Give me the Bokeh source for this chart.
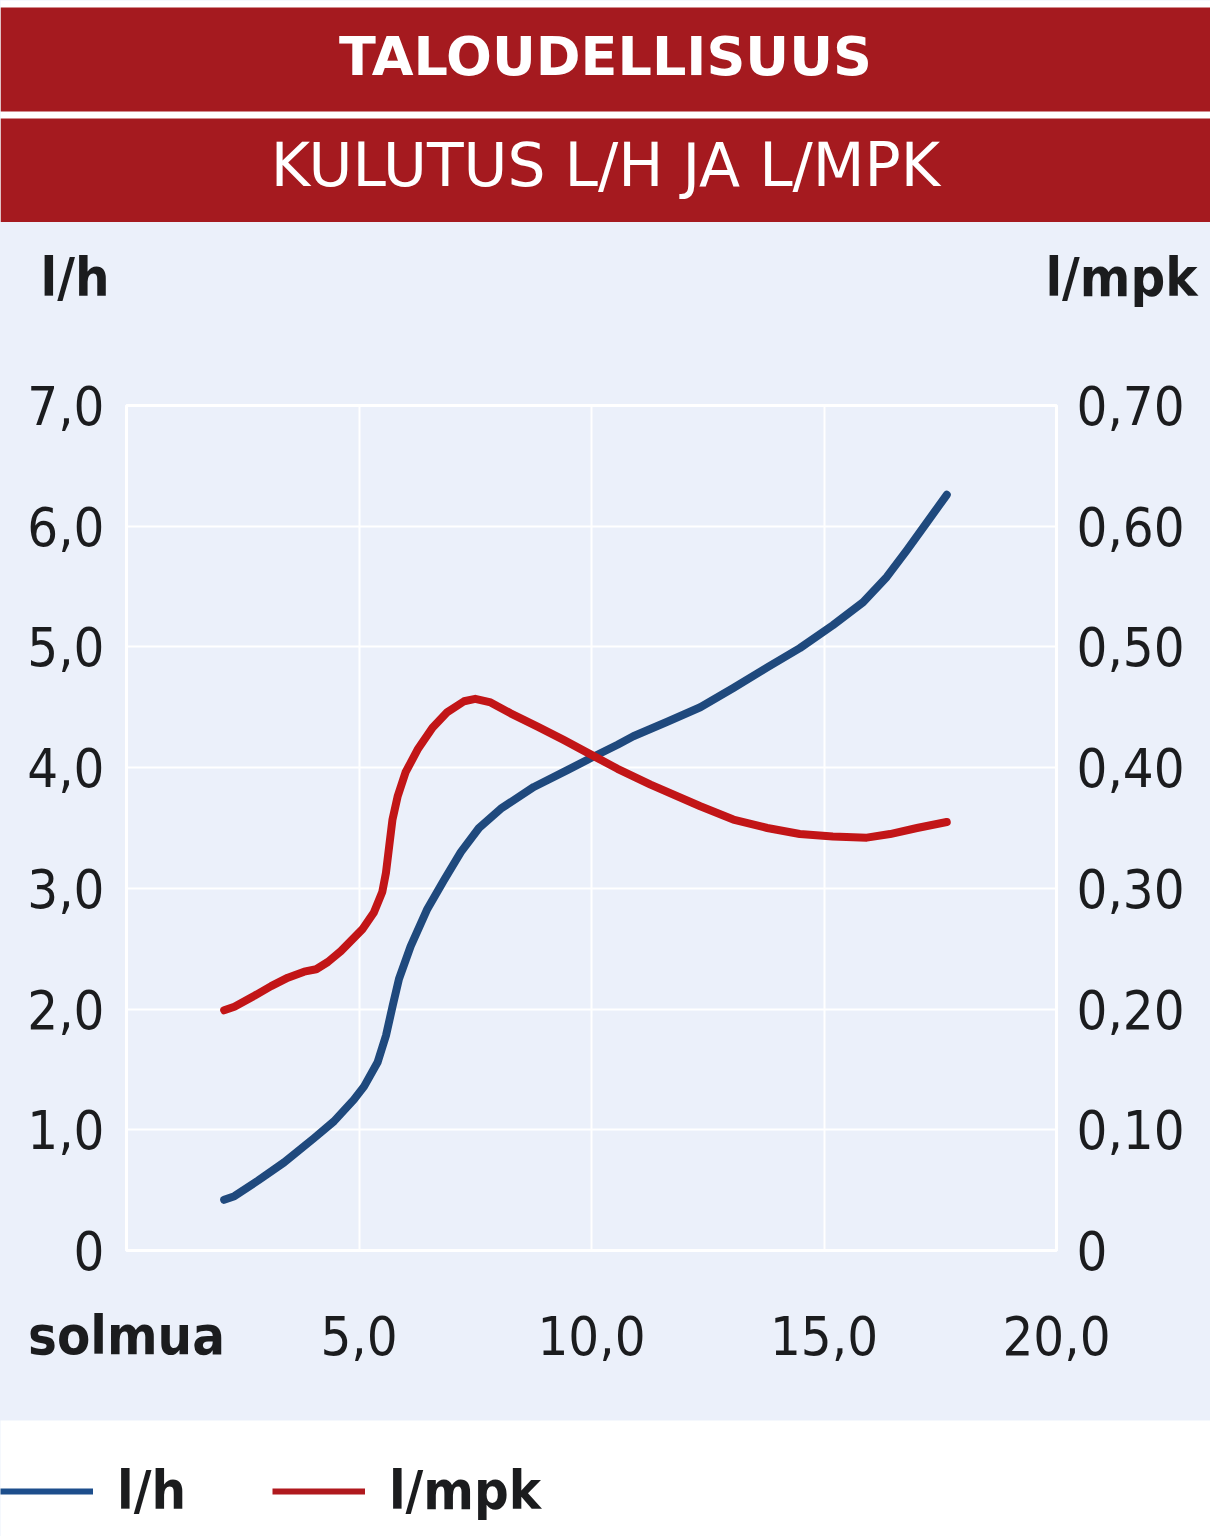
from bokeh.plotting import figure
from bokeh.models import (BoxAnnotation, Label, LinearAxis, Range1d, FixedTicker,
                          Legend, LegendItem, ColumnDataSource)
from bokeh.layouts import column, row
from bokeh.embed import file_html
from bokeh.resources import INLINE

# ---- data ----
speed_lh = [2.10, 2.32, 2.83, 3.39, 4.03, 4.46, 4.89, 5.11, 5.40, 5.58, 5.72, 5.86, 6.11,
            6.47, 6.83, 7.19, 7.58, 8.05, 8.76, 9.48, 10.04, 10.56, 10.90, 11.63, 12.34,
            13.05, 13.78, 14.48, 15.19, 15.84, 16.35, 16.78, 17.21, 17.64]
lh = [0.42, 0.45, 0.58, 0.73, 0.93, 1.07, 1.25, 1.36, 1.56, 1.78, 2.02, 2.25, 2.52,
      2.83, 3.07, 3.30, 3.50, 3.66, 3.84, 3.98, 4.09, 4.19, 4.26, 4.38, 4.50,
      4.66, 4.83, 4.99, 5.18, 5.37, 5.58, 5.80, 6.03, 6.26]

speed_mpk = [2.10, 2.32, 2.75, 3.11, 3.47, 3.82, 4.08, 4.33, 4.61, 5.07, 5.32, 5.50, 5.58,
             5.65, 5.72, 5.83, 6.00, 6.26, 6.58, 6.90, 7.26, 7.50, 7.83, 8.26, 8.84, 9.40,
             9.98, 10.56, 11.27, 12.34, 13.05, 13.78, 14.48, 15.19, 15.92, 16.42, 17.00, 17.64]
mpk = [0.199, 0.202, 0.211, 0.219, 0.226, 0.231, 0.233, 0.239, 0.248, 0.266, 0.280, 0.297, 0.313,
       0.335, 0.357, 0.376, 0.396, 0.415, 0.433, 0.446, 0.455, 0.457, 0.454, 0.445, 0.434, 0.423,
       0.411, 0.399, 0.386, 0.368, 0.357, 0.350, 0.345, 0.343, 0.342, 0.345, 0.350, 0.355]

x_ticks = [5, 10, 15, 20]
x_labels = ["5,0", "10,0", "15,0", "20,0"]
y_ticks = [0, 1, 2, 3, 4, 5, 6, 7]
y_labels = ["0", "1,0", "2,0", "3,0", "4,0", "5,0", "6,0", "7,0"]
y2_ticks = [0, 0.1, 0.2, 0.3, 0.4, 0.5, 0.6, 0.7]
y2_labels = ["0", "0,10", "0,20", "0,30", "0,40", "0,50", "0,60", "0,70"]

title = "TALOUDELLISUUS"
subtitle = "KULUTUS L/H JA L/MPK"
left_unit = "l/h"
right_unit = "l/mpk"
x_name = "solmua"

# ---- style ----
RED_HDR = "#A51A1F"
BG = "#EBF0FA"
BLUE = "#1F497D"
RED = "#C21517"
TXT = "#1B1C1E"
COND = "'DejaVu Sans Condensed', 'DejaVu Sans', sans-serif"
W = 1210
ML, MR = 126, 154            # main frame borders
FRAME_W = W - ML - MR


def no_align(f):
    if "frame_align" in f.properties():
        f.frame_align = False
    return f


def blank(w, h, fill):
    f = figure(width=w, height=h, x_range=Range1d(0, w), y_range=Range1d(h, 0),
               output_backend="svg", toolbar_location=None, min_border=0,
               x_axis_location=None, y_axis_location=None,
               background_fill_color=fill, border_fill_color=fill, outline_line_color=None)
    f.grid.visible = False
    return no_align(f)


def label(f, x, y, text, size, font, style="normal", color=TXT, align="left"):
    f.add_layout(Label(x=x, y=y, text=text, text_font=font, text_font_size=f"{size}px",
                       text_font_style=style, text_color=color, text_align=align,
                       text_baseline="alphabetic"))


def style_axis(ax, standoff, size="54px", style="normal"):
    ax.axis_line_color = None
    ax.major_tick_line_color = None
    ax.minor_tick_line_color = None
    ax.major_tick_out = 0
    ax.major_tick_in = 0
    ax.major_label_standoff = standoff
    ax.major_label_text_font = COND
    ax.major_label_text_font_size = size
    ax.major_label_text_font_style = style
    ax.major_label_text_color = TXT


def strip(w, xr, top):
    f = figure(width=w, height=130, x_range=xr, y_range=Range1d(0, 1),
               x_axis_location="above", y_axis_location=None, output_backend="svg",
               toolbar_location=None, min_border_left=0, min_border_right=0,
               min_border_top=top, min_border_bottom=0,
               background_fill_color=None, border_fill_color=BG, outline_line_color=None)
    f.grid.visible = False
    return no_align(f)


# ---- header ----
fh = blank(W, 222, "white")
fh.add_layout(BoxAnnotation(left=0, right=W, top=7, bottom=111, fill_color=RED_HDR,
                            fill_alpha=1, line_color=None))
fh.add_layout(BoxAnnotation(left=0, right=W, top=118, bottom=222, fill_color=RED_HDR,
                            fill_alpha=1, line_color=None))
label(fh, 605, 56, title, 54, "DejaVu Sans", "bold", "white", "center")
label(fh, 605, 164, subtitle, 60, "'DejaVu Sans ExtraLight', 'DejaVu Sans'",
      "normal", "white", "center")

# ---- unit titles ----
ft = blank(W, 108, BG)
label(ft, 40, 55, left_unit, 54, COND, "bold")
label(ft, 1197, 55, right_unit, 54, COND, "bold", align="right")

# ---- main chart ----
p = figure(width=W, height=960, x_range=Range1d(0, 20), y_range=Range1d(0, 7),
           x_axis_location=None, output_backend="svg", toolbar_location=None,
           min_border_left=ML, min_border_right=MR, min_border_top=75, min_border_bottom=40,
           background_fill_color=BG, border_fill_color=BG,
           outline_line_color="white", outline_line_width=3)
no_align(p)
p.extra_y_ranges = {"mpk": Range1d(0, 0.7)}
p.xgrid.ticker = FixedTicker(ticks=[5, 10, 15])
p.ygrid.ticker = FixedTicker(ticks=[1, 2, 3, 4, 5, 6])
for g in (p.xgrid, p.ygrid):
    g.grid_line_color = "white"
    g.grid_line_width = 2

p.yaxis.ticker = FixedTicker(ticks=y_ticks)
p.yaxis.major_label_overrides = dict(zip(y_ticks, y_labels))
style_axis(p.yaxis[0], 22)
ax2 = LinearAxis(y_range_name="mpk", ticker=FixedTicker(ticks=y2_ticks),
                 major_label_overrides=dict(zip(y2_ticks, y2_labels)))
style_axis(ax2, 20)
p.add_layout(ax2, "right")

src1 = ColumnDataSource(dict(x=speed_lh, y=lh))
src2 = ColumnDataSource(dict(x=speed_mpk, y=mpk))
p.line("x", "y", source=src1, line_color=BLUE, line_width=8, line_cap="round", line_join="round")
p.line("x", "y", source=src2, y_range_name="mpk", line_color=RED, line_width=8,
       line_cap="round", line_join="round")

# ---- x axis strip (same scale as the main frame) ----
SOL_W = 236
px_per = FRAME_W / 20.0
fs = strip(SOL_W, Range1d(-ML / px_per, (SOL_W - ML) / px_per), 81)
fs.xaxis.ticker = FixedTicker(ticks=[0])
fs.xaxis.major_label_overrides = {0: x_name}
style_axis(fs.xaxis[0], 5, "54px", "bold")

x0 = (SOL_W - ML) / px_per
x1 = x0 + (W - SOL_W) / px_per
fx = strip(W - SOL_W, Range1d(x0, x1), 69)
fx.xaxis.ticker = FixedTicker(ticks=x_ticks)
fx.xaxis.major_label_overrides = dict(zip(x_ticks, x_labels))
style_axis(fx.xaxis[0], 5)

# ---- legend ----
fl = blank(W, 116, "white")
fl.extra_x_ranges = {"off": Range1d(-1000, -900)}
d1 = fl.line("x", "y", source=src1, x_range_name="off", line_color="#1D4E8C", line_width=6)
d2 = fl.line("x", "y", source=src2, x_range_name="off", line_color="#B0191E", line_width=6)
legend = Legend(items=[LegendItem(label=left_unit, renderers=[d1]),
                       LegendItem(label=right_unit, renderers=[d2])],
                orientation="horizontal", location=(0, 14),
                glyph_width=93, glyph_height=20, label_standoff=24, spacing=86,
                padding=0, margin=0, border_line_color=None, background_fill_alpha=0,
                label_text_font=COND, label_text_font_size="54px",
                label_text_font_style="bold", label_text_color=TXT)
fl.add_layout(legend, "center")

layout = column(fh, ft, p, row(fs, fx, spacing=0, styles={"background-color": BG}), fl,
                spacing=0, styles={"background-color": BG})
open("out.html", "w").write(file_html(layout, INLINE))
